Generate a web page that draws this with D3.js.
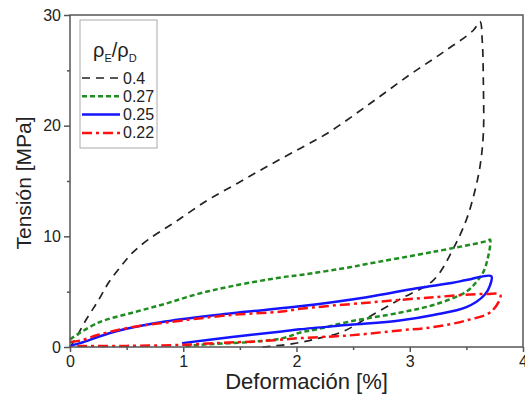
<!DOCTYPE html>
<html>
<head>
<meta charset="utf-8">
<script src="https://cdn.jsdelivr.net/npm/d3@7"></script>
<style>
body{margin:0;background:#fff;}
svg text{font-family:"Liberation Sans",Arial,sans-serif;fill:#222;}
</style>
</head>
<body>
<div id="chart_div"></div>
<script>
////////////////////////////////////////
// data (deformation %, tension MPa)
////////////////////////////////////////

var series_labels = ['0.4','0.27','0.25','0.22'];
var series_colors = ['#222222','#1e8c1e','#1414ff','#ff1010'];

var curve_04 = [
	[0,0],[0.04,0.6],[0.15,2.6],[0.25,4.2],[0.34,5.8],[0.45,7.3],[0.55,8.5],[0.69,9.7],
	[0.93,11.3],[1.22,13.3],[1.48,14.8],[1.72,16.2],[1.97,17.6],[2.27,19.3],[2.65,22.0],
	[3.0,24.6],[3.29,26.6],[3.56,28.6],[3.62,29.4],[3.64,27.7],[3.65,23.8],[3.65,19.3],
	[3.62,16.3],[3.57,13.9],[3.50,11.5],[3.38,8.8],[3.21,6.05],[2.91,4.3],[2.62,2.6],
	[2.41,1.4],[2.2,0.8],[1.97,0.3],[1.7,0]
];
var curve_027 = [
	[0,0.7],[0.25,2.2],[0.55,3.1],[0.84,3.9],[1.13,4.8],[1.43,5.5],[1.87,6.3],[2.03,6.5],
	[2.47,7.2],[2.62,7.5],[3.21,8.6],[3.69,9.6],[3.71,9.7],[3.66,7.0],[3.59,5.9],[3.50,5.0],
	[3.21,3.8],[2.91,3.1],[2.47,2.3],[2.18,1.6],[2.03,1.3],[1.88,0.8],[1.59,0.45],[1.15,0.2],[1.0,0.05]
];
var curve_025 = [
	[0,0.1],[0.09,0.35],[0.4,1.4],[0.84,2.3],[1.43,3.05],[2.01,3.65],[2.62,4.5],[3.06,5.3],
	[3.38,5.8],[3.50,6.05],[3.72,6.4],[3.71,5.6],[3.66,4.7],[3.50,3.6],[3.21,2.9],[2.91,2.4],
	[2.47,2.0],[2.03,1.6],[1.87,1.4],[1.43,0.9],[0.99,0.35]
];
var curve_022 = [
	[0,0.45],[0.1,0.6],[0.25,1.1],[0.5,1.7],[0.84,2.2],[1.43,2.9],[1.87,3.2],[2.03,3.45],
	[2.62,4.0],[3.21,4.5],[3.68,4.8],[3.80,4.7],[3.72,3.2],[3.50,2.4],[3.21,1.8],[2.91,1.5],
	[2.47,1.05],[2.03,0.8],[1.72,0.55],[1.28,0.35],[1.0,0.2],[0.5,0.1],[0.05,0.1]
];

var x_ticks = [0,1,2,3,4];
var x_minor = [0.5,1.5,2.5,3.5];
var y_ticks = [0,10,20,30];
var y_minor = [5,15,25];

var all_curves = [curve_04,curve_027,curve_025,curve_022];
var dash_styles = ['8,6','5,3',null,'10,4,3,4'];
var line_widths = [1.7,2.5,2.5,2.5];

////////////////////////////////////////
////////////////////////////////////////

var chart_w = 525;
var chart_h = 394;
var margin = {left:70,right:2,top:15,bottom:47};

var vis = d3.select('#chart_div')
	.append('svg')
	.attr('width',chart_w)
	.attr('height',chart_h);

var x = d3.scaleLinear().domain([0,4]).range([margin.left,chart_w-margin.right]);
var y = d3.scaleLinear().domain([0,30]).range([chart_h-margin.bottom,margin.top]);

var line = d3.line()
	.x(function(d){return x(d[0]);})
	.y(function(d){return y(d[1]);})
	.curve(d3.curveCatmullRom.alpha(0.5));

////////////////////////////////////////
// curves
////////////////////////////////////////

vis.selectAll('path.curve')
	.data(all_curves)
	.enter()
		.append('path')
		.attr('class','curve')
		.attr('d',line)
		.attr('fill','none')
		.attr('stroke',function(d,i){return series_colors[i];})
		.attr('stroke-width',function(d,i){return line_widths[i];})
		.attr('stroke-dasharray',function(d,i){return dash_styles[i];});

////////////////////////////////////////
// frame + axes
////////////////////////////////////////

vis.append('rect')
	.attr('x',x(0))
	.attr('y',y(30))
	.attr('width',x(4)-x(0))
	.attr('height',y(0)-y(30))
	.attr('fill','none')
	.attr('stroke','#555')
	.attr('stroke-width',1.5);

var x_axis = vis.append('g')
	.attr('transform','translate(0,'+y(0)+')')
	.call(d3.axisBottom(x).tickValues(x_ticks).tickSize(5).tickPadding(4).tickFormat(d3.format('d')));
var x_axis_minor = vis.append('g')
	.attr('transform','translate(0,'+y(0)+')')
	.call(d3.axisBottom(x).tickValues(x_minor).tickSize(3).tickFormat(''));
var y_axis = vis.append('g')
	.attr('transform','translate('+x(0)+',0)')
	.call(d3.axisLeft(y).tickValues(y_ticks).tickSize(6).tickPadding(3).tickFormat(d3.format('d')));
var y_axis_minor = vis.append('g')
	.attr('transform','translate('+x(0)+',0)')
	.call(d3.axisLeft(y).tickValues(y_minor).tickSize(3).tickFormat(''));

vis.selectAll('.domain').remove();
vis.selectAll('.tick line').attr('stroke','#555').attr('stroke-width',1.5);
vis.selectAll('.tick text')
	.attr('font-size',16)
	.style('font-family','"Liberation Sans",Arial,sans-serif')
	.attr('fill','#222');

vis.append('text')
	.attr('x',(x(0)+x(4))/2+10)
	.attr('y',389)
	.attr('text-anchor','middle')
	.attr('font-size',22)
	.text('Deformación [%]');

vis.append('text')
	.attr('transform','translate(31,'+((y(0)+y(30))/2+2)+') rotate(-90)')
	.attr('text-anchor','middle')
	.attr('font-size',21)
	.text('Tensión [MPa]');

////////////////////////////////////////
// legend
////////////////////////////////////////

var legend = vis.append('g').attr('transform','translate(80,20)');

legend.append('rect')
	.attr('width',77)
	.attr('height',128)
	.attr('fill','#fff')
	.attr('stroke','#aaa')
	.attr('stroke-width',1);

var title = legend.append('text')
	.attr('x',13)
	.attr('y',37)
	.attr('font-size',20);
title.append('tspan').text('ρ');
title.append('tspan').attr('font-size',11).attr('dy',5).text('E');
title.append('tspan').attr('dy',-5).text('/ρ');
title.append('tspan').attr('font-size',11).attr('dy',5).text('D');

var legend_rows = legend.selectAll('g.legend_row')
	.data(series_labels)
	.enter()
		.append('g')
		.attr('class','legend_row')
		.attr('transform',function(d,i){
			return 'translate(0,'+(58+i*18.3)+')';
		});

legend_rows.append('line')
	.attr('x1',2)
	.attr('x2',40)
	.attr('y1',0)
	.attr('y2',0)
	.attr('stroke',function(d,i){return series_colors[i];})
	.attr('stroke-width',function(d,i){return line_widths[i];})
	.attr('stroke-dasharray',function(d,i){return dash_styles[i];});

legend_rows.append('text')
	.attr('x',43)
	.attr('y',5.5)
	.attr('font-size',16)
	.text(function(d){return d;});
</script>
</body>
</html>
